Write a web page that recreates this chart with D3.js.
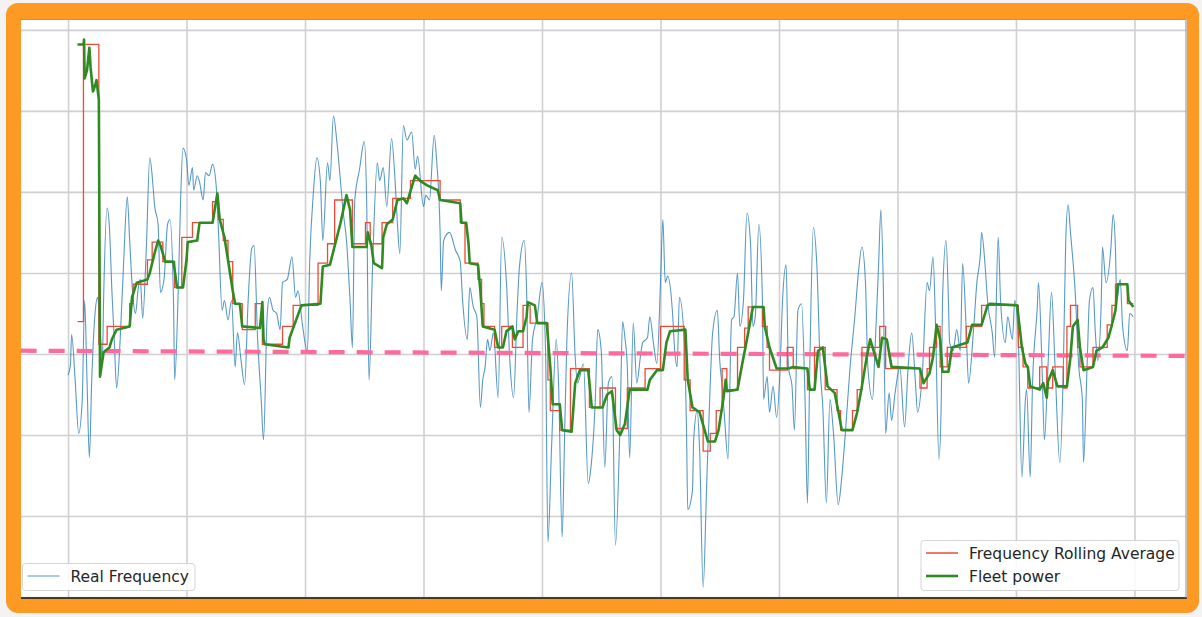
<!DOCTYPE html>
<html><head><meta charset="utf-8">
<script src="https://cdn.jsdelivr.net/npm/d3@7"></script>
<style>
html,body{margin:0;padding:0;background:#f3f3f3;}
svg{display:block;}
text{font-family:"DejaVu Sans",sans-serif;}
</style></head><body>
<svg id="chart" width="1202" height="617"></svg>
<script>
// time in seconds, frequency deviation in mHz
const realT=[0,2,3,6,9,12,14,16,18,20,
 23,25,27,29,30,33,35,37,39,41,
 44,47,50,52,55,57,59,61,63,66,
 69,72,73,76,78,81,84,86,89,90,
 93,95,97,100,102,105,106,109,111,114,
 116,119,122,125,127,130,132,135,138,141,
 143,146,149,152,155,157,160,163,165,168,
 170,173,176,179,181,185,189,192,194,198,
 202,204,207,210,213,215,219,221,224,227,
 230,232,235,238,240,242,246,250,252,254,
 257,261,263,266,269,273,276,278,280,283,
 286,290,293,295,300,302,305,309,311,314,
 315,317,322,327,331,333,337,339,342,345,
 348,350,352,354,356,359,363,366,370,373,
 376,379,381,385,387,389,392,396,400,403,
 405,408,412,414,417,419,421,425,428,430,
 435,439,441,445,447,450,453,456,459,462,
 466,468,470,472,474,477,480,483,485,489,
 491,494,497,500,502,504,506,510,512,514,
 516,520,522,523,527,528,531,533,536,539,
 542,544,548,550,552,554,557,560,562,565,
 567,570,573,576,578,580,583,586,587,590,
 592,595,598,601,603,606,608,611,613,616,
 619,622,624,626,629,632,635,637,640,643,
 646,650,653,656,660,664,667,670,673,675,
 679,681,684,686,688,690,693,695,698,702,
 706,709,712,715,717,721,725,727,730,732,
 735,737,738,741,743,744,747,750,753,755,
 758,760,764,767,770,771,774,776,780,782,
 785,787,791,793,797,799,802,805,808,809,
 812,814,818,819,822,824,827,830,833,837,
 840,842,844,846,850,853,856,857,860,862,
 865,867,869,872,873,876,880,882,884,885,
 888,890,894,896,899];
const realF=[-13,-7,12,-16,-49,-28,33,-16,-64,-16,
 27,35,15,-4,33,90,77,39,9,-21,
 9,58,97,70,33,25,39,46,22,64,
 121,101,92,80,38,46,80,83,33,-16,
 39,95,127,120,104,115,101,110,106,95,
 112,110,117,104,75,27,33,21,33,-8,
 13,-4,-19,33,65,67,9,-28,-53,23,
 35,27,25,15,44,46,60,35,39,17,
 1,58,99,121,106,70,118,107,147,130,
 106,89,70,33,4,95,114,131,95,-16,
 54,118,107,115,91,133,107,80,62,141,
 132,137,114,122,91,98,95,135,120,75,
 39,70,75,64,57,33,9,41,29,23,
 -33,-16,-8,9,2,13,-27,72,44,-6,
 -27,27,54,70,39,-36,9,23,44,2,
 -116,-59,9,-19,-113,-53,9,50,-2,-18,
 -6,-80,-72,-28,15,2,-70,-18,-14,-118,
 -39,20,10,-8,-64,19,-18,-2,7,10,
 23,7,-6,44,83,44,48,27,2,-8,
 35,9,-49,-96,-84,-53,-35,-59,-144,-80,
 -18,13,27,-4,-20,-39,-65,21,23,50,
 17,33,87,68,17,23,80,33,-28,-14,
 -36,-20,-39,-8,33,55,-8,-20,-47,27,
 31,-28,-92,-8,78,54,-12,-33,-92,-28,
 -49,-93,-76,-49,-8,23,50,66,44,-8,
 -28,2,54,89,44,-49,-24,-41,-24,-8,
 -45,-8,13,-16,-36,-12,44,39,60,21,
 -65,-28,33,70,33,7,2,15,2,56,
 15,-18,13,44,62,75,54,33,13,-2,
 72,33,7,23,9,33,9,-76,-28,-22,
 -76,-18,29,44,-8,-53,-8,38,-8,-67,
 -8,70,92,75,38,-8,-28,-67,-8,33,
 41,13,-4,33,66,44,64,86,64,33,
 46,17,2,25,23];

const avgT=[8,13,26,33,52,55,67,71,80,90,
 96,105,122,127,131,135,139,147,158,164,
 181,190,211,219,225,240,251,255,265,274,
 289,314,331,335,346,349,351,360,366,375,
 384,390,405,407,415,424,440,449,462,472,
 487,500,520,525,536,542,547,552,556,565,
 571,574,586,590,592,607,612,624,630,639,
 649,652,662,666,670,685,690,719,725,727,
 733,736,742,758,771,802,806,810,820,826,
 831,840,843,846,852,854,865,877,881,884,
 894,899];
const avgF=[20,191,6,17,31,43,58,69,57,41,
 72,81,94,83,70,57,31,15,31,6,
 17,30,56,68,95,68,81,68,81,96,
 107,95,81,56,46,31,17,4,17,4,
 30,19,-16,-35,-47,-9,-33,-21,-46,-21,
 -9,17,-16,-35,-60,-49,-35,-9,-22,4,
 16,29,17,4,-10,4,-9,-22,4,-22,
 -35,-47,-35,-22,4,17,-9,-21,-9,4,
 17,-8,4,17,30,4,-8,-21,-8,-21,
 -8,-21,17,30,4,-8,4,18,30,43,
 31,31];

const fleetT=[8,13,13.5,14,16,18,19,21,23,24,
 26,27,30,35,37,41,52,54,58,67,
 69,73,76,78,82,89,92,97,100,101,
 109,111,122,126,128,132,135,139,141,145,
 147,162,164,165,166,186,187,197,213,215,
 221,230,235,238,240,252,253,256,258,265,
 266,269,274,278,283,286,290,293,297,303,
 312,314,331,332,336,338,339,346,348,350,
 360,363,367,370,375,377,380,384,387,388,
 394,396,404,407,409,415,417,425,428,432,
 439,442,451,455,459,463,466,470,474,489,
 491,497,502,505,508,521,523,527,533,538,
 540,546,549,553,555,556,565,569,573,578,
 587,588,592,598,608,612,624,626,630,633,
 637,641,647,650,653,662,666,670,674,677,
 679,684,687,691,695,719,722,727,730,733,
 736,738,743,746,759,763,771,776,778,801,
 803,805,808,810,812,820,823,826,827,831,
 835,843,846,848,852,854,857,865,868,873,
 878,881,884,886,894,895,899];
const fleetP=[191,191,194,170,175,189,177,162,166,169,
 157,-14,1,4,9,15,17,35,44,46,
 50,62,70,67,57,57,41,41,58,69,
 70,81,81,99,83,72,58,39,31,31,
 17,16,32,9,6,4,10,30,31,54,
 55,81,98,89,66,66,75,67,56,53,
 72,80,83,95,96,93,103,110,107,104,
 101,95,93,81,81,68,56,55,39,17,
 15,4,4,14,17,9,14,14,23,32,
 30,19,19,-8,-31,-31,-47,-48,-18,-10,
 -10,-33,-33,-25,-23,-47,-50,-43,-22,-22,
 -16,-10,-10,7,14,15,-16,-33,-36,-49,
 -54,-54,-47,-28,-16,-23,-22,-6,9,29,
 29,17,4,-9,-9,-8,-9,-22,-22,2,
 4,-20,-24,-35,-47,-47,-36,-20,-2,9,
 4,-8,10,9,-8,-9,-18,-12,-2,18,
 9,-11,-11,4,7,18,18,30,31,30,
 17,4,-6,-8,-20,-22,-18,-27,-17,-10,
 -20,-20,-2,17,21,4,-10,-8,2,4,
 10,18,27,43,43,33,29];

const nominalT=[-40,944];
const nominalF=[2,-1.2];
const xTicks=[0,100,200,300,400,500,600,700,800,900];
const yTicks=[-150,-100,-50,0,50,100,150,200];
const legendLeft=["Real Frequency"];
const legendRight=["Frequency Rolling Average","Fleet power"];

const svg=d3.select("#chart");
const P={left:21,top:19,right:1186,bottom:598};
const x=d3.scaleLinear().domain([-39.7,943.5]).range([P.left,P.right]);
const y=d3.scaleLinear().domain([-150.6,206.7]).range([P.bottom,P.top]);

// frame
svg.append("rect").attr("x",6).attr("y",3).attr("width",1193).attr("height",610)
  .attr("rx",12).attr("fill","#fd9a24");
svg.append("rect").attr("x",P.left).attr("y",P.top).attr("width",P.right-P.left+1)
  .attr("height",P.bottom-P.top).attr("fill","#ffffff");

// grid
const gx=svg.append("g").attr("transform",`translate(0,${P.bottom})`)
  .call(d3.axisBottom(x).tickValues(xTicks).tickSize(-(P.bottom-P.top)).tickFormat(""));
const gy=svg.append("g").attr("transform",`translate(${P.left},0)`)
  .call(d3.axisLeft(y).tickValues(yTicks).tickSize(-(P.right-P.left)).tickFormat(""));
[gx,gy].forEach(g=>{g.select(".domain").remove();
  g.selectAll(".tick line").attr("stroke","#d0d0d0").attr("stroke-width",1.6);});

svg.append("defs").append("clipPath").attr("id","clip").append("rect")
  .attr("x",P.left).attr("y",P.top).attr("width",P.right-P.left).attr("height",P.bottom-P.top);
const plot=svg.append("g").attr("clip-path","url(#clip)");

const lineLin=d3.line().x(d=>x(d[0])).y(d=>y(d[1]));
const lineSmooth=d3.line().x(d=>x(d[0])).y(d=>y(d[1])).curve(d3.curveMonotoneX);
const lineStep=d3.line().x(d=>x(d[0])).y(d=>y(d[1])).curve(d3.curveStepAfter);

plot.append("path").datum(d3.zip(realT,realF)).attr("d",lineSmooth)
  .attr("fill","none").attr("stroke","#1f77b4").attr("stroke-opacity",0.75).attr("stroke-width",1.1)
  .attr("stroke-linejoin","round");
plot.append("path").datum(d3.zip(nominalT,nominalF)).attr("d",lineLin)
  .attr("fill","none").attr("stroke","#ff6a9e").attr("stroke-width",4.2)
  .attr("stroke-dasharray","16,12");
plot.append("path").datum(d3.zip(avgT,avgF)).attr("d",lineStep)
  .attr("fill","none").attr("stroke","#ec4b38").attr("stroke-width",1.3);
plot.append("path").datum(d3.zip(fleetT,fleetP)).attr("d",lineLin)
  .attr("fill","none").attr("stroke","#2f8a22").attr("stroke-width",2.6)
  .attr("stroke-linejoin","round");

// spines
svg.append("line").attr("x1",P.left).attr("x2",P.right+1).attr("y1",P.bottom).attr("y2",P.bottom)
  .attr("stroke","#111").attr("stroke-width",1.3);
svg.append("line").attr("x1",P.right).attr("x2",P.right).attr("y1",P.top).attr("y2",P.bottom)
  .attr("stroke","#8a8a8a").attr("stroke-width",1);
svg.append("line").attr("x1",P.left).attr("x2",P.right).attr("y1",P.top+0.5).attr("y2",P.top+0.5)
  .attr("stroke","#9a9a9a").attr("stroke-width",1);

// legends
function legend(x0,y0,w,h,items){
  const g=svg.append("g");
  g.append("rect").attr("x",x0).attr("y",y0).attr("width",w).attr("height",h).attr("rx",3)
    .attr("fill","#ffffff").attr("fill-opacity",0.85).attr("stroke","#d6d6d6").attr("stroke-width",1);
  items.forEach((it,i)=>{
    const cy=y0+12.5+i*23;
    g.append("line").attr("x1",x0+5).attr("x2",x0+37).attr("y1",cy).attr("y2",cy)
      .attr("stroke",it.c).attr("stroke-width",it.w).attr("stroke-opacity",it.o||1);
    g.append("text").attr("x",x0+48).attr("y",cy+5.5).attr("font-size",15.5).attr("fill","#262626").text(it.t);
  });
}
legend(22.5,563.5,172.5,27,[{t:legendLeft[0],c:"#1f77b4",w:1.2,o:0.75}]);
legend(921,540.5,258,50,[{t:legendRight[0],c:"#ec4b38",w:1.5},{t:legendRight[1],c:"#2f8a22",w:2.6}]);
</script>
</body></html>
